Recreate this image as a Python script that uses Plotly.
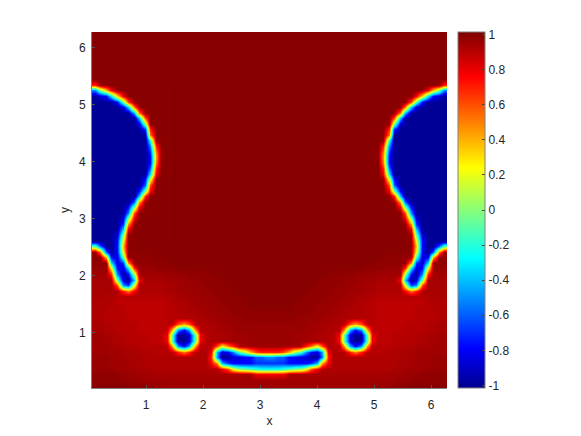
import re
import plotly.graph_objects as go

# Field values, one row per 0.097 in y (top to bottom),
# left half of the symmetric image, run-length coded (count + level letter).
phase_rows = ["32z"] * 8 + [
    "10J22z", "wHI11J18z", "fmsxI9J18z", "abcirx8J18z", "4aclvI6J18z", "5abhuI5J18z",
    "7aguI4J18z", "8ahv4J18z", "8abmI3J18z", "9adw3J18z", "10auI2J18z", "10akH2J18z",
    "10afw2J18z", "10aduIJ18z", "10actIJ18z", "10acu2J18z", "10aew2J18z", "10aix2J18z",
    "9acpI2J18z", "9aev3J18z", "8acmx3J18z", "8ahw4J18z", "7aetI4J18z", "6acmx5J18z",
    "6afv6J18z", "5abmx6J18z", "5adtI6J18z", "5ahx7J18z", "4abmH7J18z", "4acqI7J18z",
    "le2acs14J12z", "Hueacq2I24J", "2IscblH4I21J", "3Iibdt6I19J", "3Hqcbiw3H4I17J",
    "3Gwfacn5G4H4I11J", "4Fmbahx4F3G3H4I9J", "4Fvfdp5E2F2G3H4I8J", "4FEwux5E2F3G3H4I7J",
    "2F2E9D2E2F2G3H4I6J", "4E9CD2E2F2G3H4I5J", "3E3D7C2D2E2F2G3H4I4J", "2E4D7C2D3E2F2G3H7I",
    "2E4D7C3D3E2F2G4H5I", "2F2E4D6CDvtvD2E2F2G7H", "2F2E4D6CsfcgtD2E2F2G6H",
    "2G2F2E4D3Cxl2ablxD2E2F3G4H", "2G2F2E4D3Cxl2ablxD2E2F3G4H",
    "3G3F3E5Dtfcgt2DEvquw2F4G", "5G3F3E4DwuwD2Exgbcflosv2w", "3H3G3F12Ewf2a2b2c2ef",
    "3H3G3F12Extgd4c3d", "4H3G3F13Exvqnmlk2j", "5I3H3G18F3x", "6I3H23G",
    "7J3I3H19G",
]
level_letters = "abcdefghijklmnopqrstuvwxyzABCDEFGHIJ"
level_values = [
    -1.0, -0.87, -0.78, -0.69, -0.6, -0.52, -0.45, -0.38, -0.31, -0.24, -0.17, -0.1, -0.03,
    0.03, 0.1, 0.17, 0.24, 0.31, 0.38, 0.45, 0.52, 0.6, 0.69, 0.78, 0.87, 1.0,
    0.86, 0.875, 0.89, 0.905, 0.92, 0.935, 0.95, 0.965, 0.98, 0.997,
]
x_ticks = [1, 2, 3, 4, 5, 6]
y_ticks = [1, 2, 3, 4, 5, 6]
cbar_ticks = [-1, -0.8, -0.6, -0.4, -0.2, 0, 0.2, 0.4, 0.6, 0.8, 1]
x_range = [0.05, 6.28]
y_range = [0.03, 6.28]
x_title = "x"
y_title = "y"


def decode(row):
    out = []
    for count, ch in re.findall(r"(\d*)([a-zA-Z])", row):
        out += [level_values[level_letters.index(ch)]] * int(count or 1)
    out = (out + [out[-1]] * 32)[:32]
    return out + out[::-1]


z = [decode(r) for r in phase_rows][::-1]
nrows, ncols = len(z), len(z[0])
dx = (x_range[1] - x_range[0]) / ncols
dy = (y_range[1] - y_range[0]) / nrows
xs = [x_range[0] + (i + 0.5) * dx for i in range(ncols)]
ys = [y_range[0] + (j + 0.5) * dy for j in range(nrows)]

jet = [
    [0.0, "rgb(0,0,143)"], [0.111, "rgb(0,0,255)"], [0.365, "rgb(0,255,255)"],
    [0.492, "rgb(128,255,128)"], [0.619, "rgb(255,255,0)"], [0.873, "rgb(255,0,0)"],
    [1.0, "rgb(128,0,0)"],
]
font = dict(family="Liberation Sans, Arial, sans-serif", size=12, color="#262626")

fig = go.Figure(go.Heatmap(
    x=xs, y=ys, z=z, zmin=-1.015, zmax=1.015, zsmooth="best", colorscale=jet, hoverinfo="skip",
    colorbar=dict(
        x=(458 - 92) / 355, xanchor="left", xref="paper",
        y=0, yanchor="bottom", yref="paper",
        len=1, lenmode="fraction", thickness=27, thicknessmode="pixels",
        tickmode="array", tickvals=cbar_ticks, ticktext=[f"{t:g}" for t in cbar_ticks],
        ticks="inside", ticklen=3, tickcolor="#444444", tickfont=font,
        outlinecolor="#808080", outlinewidth=1, xpad=0, ypad=0,
    ),
))
axis = dict(ticks="inside", ticklen=3, tickcolor="#555555", showgrid=False, zeroline=False,
            showline=True, linecolor="#808080", linewidth=1, tickfont=font, tickmode="array")
fig.update_xaxes(range=x_range, tickvals=x_ticks, ticklabelstandoff=6,
                 title=dict(text=x_title, font=font, standoff=7), **axis)
fig.update_yaxes(range=y_range, tickvals=y_ticks, ticklabelstandoff=3,
                 title=dict(text=y_title, font=font, standoff=6), **axis)
fig.update_layout(
    width=565, height=420, paper_bgcolor="white", plot_bgcolor="white", font=font,
    margin=dict(l=84, r=126, t=24, b=40, autoexpand=False),
)
fig.write_html("out.html", config={"displayModeBar": False})
